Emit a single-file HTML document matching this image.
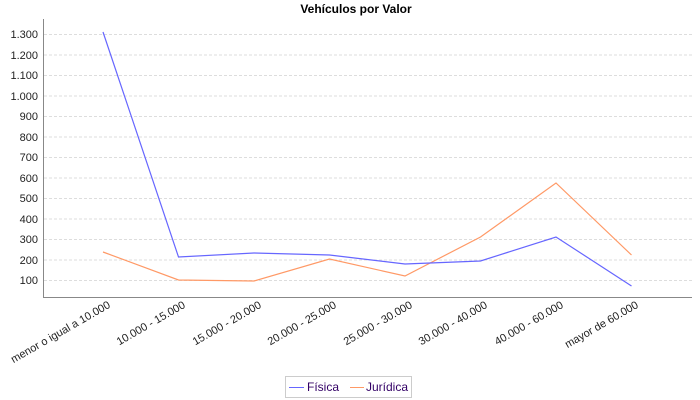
<!DOCTYPE html>
<html><head><meta charset="utf-8"><style>body{margin:0;background:#fff}svg{display:block}</style></head><body>
<svg width="700" height="400" xmlns="http://www.w3.org/2000/svg" font-family="Liberation Sans, sans-serif">
<rect width="700" height="400" fill="#fff"/>
<text x="356" y="13" text-anchor="middle" font-weight="bold" font-size="12">Vehículos por Valor</text>
<g stroke="#ddd" stroke-dasharray="3,2" stroke-width="1">
<line x1="44" x2="692" y1="34.5" y2="34.5"/><line x1="44" x2="692" y1="55" y2="55"/><line x1="44" x2="692" y1="75.5" y2="75.5"/><line x1="44" x2="692" y1="96" y2="96"/><line x1="44" x2="692" y1="116.5" y2="116.5"/><line x1="44" x2="692" y1="137" y2="137"/><line x1="44" x2="692" y1="157.5" y2="157.5"/><line x1="44" x2="692" y1="178" y2="178"/><line x1="44" x2="692" y1="198.5" y2="198.5"/><line x1="44" x2="692" y1="219" y2="219"/><line x1="44" x2="692" y1="239.5" y2="239.5"/><line x1="44" x2="692" y1="260" y2="260"/><line x1="44" x2="692" y1="280.5" y2="280.5"/>
</g>
<g font-size="11" text-anchor="end" fill="#222">
<text x="38" y="38">1.300</text><text x="38" y="59">1.200</text><text x="38" y="79">1.100</text><text x="38" y="100">1.000</text><text x="38" y="120">900</text><text x="38" y="141">800</text><text x="38" y="161">700</text><text x="38" y="182">600</text><text x="38" y="202">500</text><text x="38" y="223">400</text><text x="38" y="243">300</text><text x="38" y="264">200</text><text x="38" y="284">100</text>
</g>
<line x1="43.5" y1="19" x2="43.5" y2="297" stroke="#888"/>
<line x1="43" y1="297.5" x2="692" y2="297.5" stroke="#888"/>
<polyline fill="none" stroke="#ff9966" stroke-width="1.2" points="103,252 178.5,280 254,281 329.5,259 405,276 480.5,237 556,183 631.5,255"/>
<polyline fill="none" stroke="#6666ff" stroke-width="1.2" points="103,32 178.5,257 254,253 329.5,255 405,264 480.5,261 556,237 631.5,286"/>
<g font-size="11" text-anchor="end" fill="#222">
<text transform="translate(111,307) rotate(-30)">menor o igual a 10.000</text>
<text transform="translate(186,307) rotate(-30)">10.000 - 15.000</text>
<text transform="translate(262,307) rotate(-30)">15.000 - 20.000</text>
<text transform="translate(337,307) rotate(-30)">20.000 - 25.000</text>
<text transform="translate(413,307) rotate(-30)">25.000 - 30.000</text>
<text transform="translate(488,307) rotate(-30)">30.000 - 40.000</text>
<text transform="translate(564,307) rotate(-30)">40.000 - 60.000</text>
<text transform="translate(639,307) rotate(-30)">mayor de 60.000</text>
</g>
<rect x="285.5" y="376.5" width="126" height="21" fill="#fff" stroke="#ccc"/>
<line x1="289" x2="304" y1="387.5" y2="387.5" stroke="#6666ff"/>
<text x="307" y="391" font-size="12" fill="#330066">Física</text>
<line x1="350" x2="364" y1="387.5" y2="387.5" stroke="#ff9966"/>
<text x="366" y="391" font-size="12" fill="#330066">Jurídica</text>
</svg>
</body></html>
